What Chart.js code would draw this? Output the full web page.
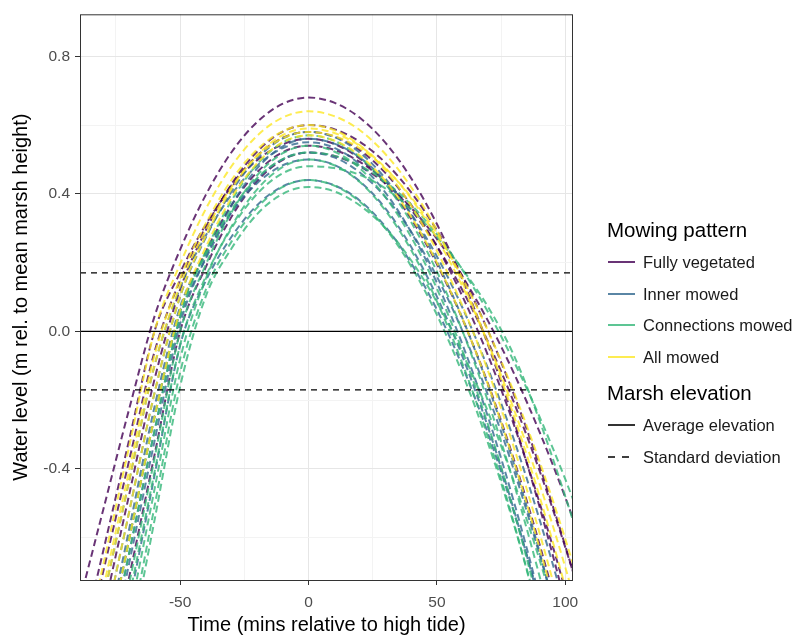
<!DOCTYPE html>
<html>
<head>
<meta charset="utf-8">
<script src="https://cdn.jsdelivr.net/npm/chart.js@4"></script>
<style>
  body { margin: 0; background: #fff; font-family: "Liberation Sans", Arial, sans-serif; }
  #wrap { position: relative; width: 795px; height: 636px; overflow: hidden; }
  #legend { position: absolute; left: 0; top: 0; width: 795px; height: 636px; pointer-events: none; }
  .ttl { position: absolute; left: 607px; font-size: 20.5px; line-height: 24px; color: #000; white-space: nowrap; }
  .row { position: absolute; left: 608px; height: 24px; white-space: nowrap; }
  .row svg { position: absolute; left: 0; top: 0; }
  .row span { position: absolute; left: 35px; top: 0; font-size: 16.5px; line-height: 24px; color: #1a1a1a; }
</style>
</head>
<body>
<div id="wrap">
  <canvas id="tideChart" width="795" height="636"></canvas>
  <div id="legend"></div>
</div>
<script>
// time axis (mins relative to high tide) shared by every tide curve
const times = [-90, -80, -70, -60, -50, -40, -30, -20, -10, 0, 10, 20, 30, 40, 50, 60, 70, 80, 90, 100, 110];

const mowingPatterns = ["Fully vegetated", "Inner mowed", "Connections mowed", "All mowed"];
const patternColors = ["rgba(68,1,84,0.8)", "rgba(49,104,142,0.8)", "rgba(53,183,121,0.8)", "rgba(253,231,37,0.8)"];

// water level (m rel. to mean marsh height), one array per tide
const fullyVegetated = [
  [-0.81, -0.52, -0.23, 0.043, 0.238, 0.397, 0.521, 0.609, 0.662, 0.68, 0.665, 0.621, 0.548, 0.445, 0.312, 0.150, -0.041, -0.261, -0.511, -0.791, -1.10],
  [-1.02, -0.70, -0.38, -0.06, 0.149, 0.304, 0.425, 0.511, 0.563, 0.58, 0.567, 0.527, 0.460, 0.367, 0.247, 0.101, -0.072, -0.272, -0.499, -0.752, -1.03],
  [-1.16, -0.82, -0.48, -0.14, 0.122, 0.294, 0.428, 0.523, 0.581, 0.60, 0.588, 0.551, 0.490, 0.404, 0.294, 0.159, 0.0, -0.184, -0.392, -0.624, -0.881],
  [-1.33, -0.97, -0.61, -0.25, 0.059, 0.232, 0.367, 0.463, 0.521, 0.54, 0.528, 0.493, 0.435, 0.353, 0.248, 0.119, -0.032, -0.207, -0.406, -0.628, -0.873],
  [-1.44, -1.08, -0.72, -0.36, 0.0, 0.187, 0.333, 0.437, 0.499, 0.52, 0.510, 0.480, 0.430, 0.359, 0.269, 0.159, 0.029, -0.122, -0.293, -0.483, -0.694],
  [-0.96, -0.64, -0.32, 0.0, 0.171, 0.311, 0.420, 0.498, 0.544, 0.56, 0.545, 0.502, 0.429, 0.327, 0.196, 0.035, -0.154, -0.373, -0.620, -0.897, -1.20]
];
const innerMowed = [
  [-1.23, -0.88, -0.53, -0.18, 0.101, 0.273, 0.407, 0.503, 0.561, 0.58, 0.565, 0.520, 0.444, 0.339, 0.203, 0.037, -0.160, -0.386, -0.642, -0.929, -1.25],
  [-1.12, -0.78, -0.44, -0.10, 0.127, 0.279, 0.398, 0.482, 0.533, 0.55, 0.534, 0.485, 0.403, 0.288, 0.141, -0.039, -0.251, -0.496, -0.774, -1.085, -1.44],
  [-1.37, -1.01, -0.65, -0.29, 0.039, 0.212, 0.347, 0.443, 0.501, 0.52, 0.506, 0.462, 0.390, 0.289, 0.159, 0.0, -0.188, -0.404, -0.650, -0.924, -1.26],
  [-1.30, -0.94, -0.58, -0.22, 0.071, 0.226, 0.346, 0.431, 0.483, 0.50, 0.484, 0.436, 0.357, 0.245, 0.101, -0.074, -0.281, -0.520, -0.791, -1.09, -1.43],
  [-1.56, -1.18, -0.80, -0.42, -0.04, 0.147, 0.275, 0.367, 0.422, 0.44, 0.425, 0.380, 0.304, 0.198, 0.063, -0.103, -0.299, -0.526, -0.782, -1.07, -1.45],
  [-1.40, -1.04, -0.68, -0.32, 0.022, 0.216, 0.366, 0.474, 0.538, 0.56, 0.546, 0.505, 0.437, 0.341, 0.218, 0.068, -0.110, -0.315, -0.548, -0.807, -1.10]
];
const connectionsMowed = [
  [-1.37, -1.01, -0.65, -0.29, 0.043, 0.233, 0.380, 0.486, 0.549, 0.57, 0.554, 0.507, 0.428, 0.317, 0.174, 0.0, -0.206, -0.443, -0.713, -1.01, -1.38],
  [-1.48, -1.11, -0.74, -0.37, 0.0, 0.194, 0.346, 0.454, 0.518, 0.54, 0.523, 0.474, 0.390, 0.274, 0.124, -0.058, -0.274, -0.524, -0.806, -1.12, -1.47],
  [-1.60, -1.22, -0.84, -0.46, -0.08, 0.153, 0.305, 0.413, 0.478, 0.50, 0.483, 0.434, 0.351, 0.236, 0.087, -0.095, -0.310, -0.558, -0.839, -1.15, -1.50],
  [-1.68, -1.29, -0.90, -0.51, -0.12, 0.121, 0.261, 0.360, 0.420, 0.44, 0.424, 0.377, 0.299, 0.189, 0.048, -0.124, -0.327, -0.562, -0.829, -1.13, -1.50],
  [-1.72, -1.33, -0.94, -0.55, -0.16, 0.102, 0.241, 0.341, 0.400, 0.42, 0.407, 0.366, 0.300, 0.206, 0.085, -0.062, -0.236, -0.437, -0.665, -0.919, -1.20],
  [-1.33, -0.97, -0.61, -0.25, 0.057, 0.224, 0.354, 0.446, 0.501, 0.52, 0.511, 0.482, 0.435, 0.368, 0.282, 0.178, 0.055, -0.088, -0.249, -0.430, -0.629],
  [-1.52, -1.15, -0.78, -0.41, -0.04, 0.160, 0.300, 0.400, 0.460, 0.48, 0.475, 0.455, 0.415, 0.355, 0.275, 0.180, 0.070, -0.070, -0.260, -0.480, -0.720]
];
const allMowed = [
  [-1.02, -0.68, -0.34, 0.0, 0.196, 0.356, 0.480, 0.569, 0.622, 0.64, 0.626, 0.585, 0.515, 0.419, 0.294, 0.141, -0.038, -0.246, -0.481, -0.744, -1.04],
  [-1.09, -0.75, -0.41, -0.07, 0.154, 0.314, 0.440, 0.529, 0.582, 0.60, 0.585, 0.541, 0.468, 0.365, 0.234, 0.073, -0.117, -0.338, -0.587, -0.865, -1.18],
  [-1.23, -0.88, -0.53, -0.18, 0.103, 0.278, 0.414, 0.512, 0.571, 0.59, 0.577, 0.539, 0.475, 0.386, 0.271, 0.130, -0.035, -0.227, -0.444, -0.686, -0.954],
  [-1.33, -0.97, -0.61, -0.25, 0.063, 0.245, 0.388, 0.489, 0.550, 0.57, 0.555, 0.511, 0.437, 0.333, 0.200, 0.036, -0.157, -0.379, -0.631, -0.913, -1.25],
  [-1.12, -0.78, -0.44, -0.10, 0.134, 0.294, 0.419, 0.509, 0.562, 0.58, 0.568, 0.532, 0.473, 0.390, 0.284, 0.154, 0.0, -0.177, -0.379, -0.604, -0.852]
];
const patternSeries = [fullyVegetated, innerMowed, connectionsMowed, allMowed];

// marsh elevation reference lines
const elevationLabels = ["Average elevation", "Standard deviation"];
const elevationMean = 0;
const elevationSd = 0.17;

// axis ranges and breaks
const xRange = [-89, 103];
const yRange = [-0.723, 0.922];
const xBreaks = [-50, 0, 50, 100];
const xMinor = [-75, -25, 25, 75];
const yBreaks = [-0.4, 0, 0.4, 0.8];
const yMinor = [-0.6, -0.2, 0.2, 0.6];

const isMajor = (list, v) => list.some(b => Math.abs(b - v) < 1e-9);

// build datasets: reference lines first so they end up on top
const datasets = [];
const hline = (y, dash) => ({
  data: [{ x: xRange[0], y: y }, { x: xRange[1], y: y }],
  borderColor: "#000",
  borderWidth: 1.4,
  borderDash: dash,
  pointRadius: 0,
  clip: 0
});
datasets.push(hline(elevationMean, []));
datasets.push(hline(elevationMean + elevationSd, [6, 5]));
datasets.push(hline(elevationMean - elevationSd, [6, 5]));

const tideSets = [];
patternSeries.forEach((group, g) => {
  group.forEach(levels => {
    tideSets.push({
      data: levels.map((v, i) => ({ x: times[i], y: v })),
      borderColor: patternColors[g],
      borderWidth: 2,
      borderDash: [7, 4],
      pointRadius: 0,
      cubicInterpolationMode: "monotone",
      clip: 0
    });
  });
});
// later groups get drawn over earlier ones
tideSets.reverse().forEach(d => datasets.push(d));

// panel border on top of everything
const panelBorder = {
  id: "panelBorder",
  afterDraw(chart) {
    const { ctx, chartArea: a } = chart;
    ctx.save();
    ctx.strokeStyle = "#333";
    ctx.lineWidth = 1;
    ctx.strokeRect(a.left + 0.5, a.top + 0.5, a.right - a.left - 1, a.bottom - a.top);
    ctx.restore();
  }
};

const tickFont = { family: "'Liberation Sans', Arial, sans-serif", size: 15.5 };
const titleFont = { family: "'Liberation Sans', Arial, sans-serif", size: 20, lineHeight: 1.1 };

new Chart(document.getElementById("tideChart"), {
  type: "line",
  data: { datasets: datasets },
  plugins: [panelBorder],
  options: {
    responsive: false,
    animation: false,
    layout: { padding: { left: 0, right: 222, top: 14, bottom: 0 } },
    plugins: { legend: { display: false }, tooltip: { enabled: false } },
    scales: {
      x: {
        type: "linear",
        min: xRange[0],
        max: xRange[1],
        afterFit(scale) { scale.height = 56; },
        afterBuildTicks(scale) {
          scale.ticks = xBreaks.concat(xMinor).sort((a, b) => a - b).map(v => ({ value: v }));
        },
        ticks: {
          color: "#4d4d4d",
          font: tickFont,
          padding: 8,
          maxRotation: 0,
          callback: v => isMajor(xBreaks, v) ? String(v) : ""
        },
        grid: {
          color: c => isMajor(xBreaks, c.tick.value) ? "#e6e6e6" : "#f3f3f3",
          tickColor: c => isMajor(xBreaks, c.tick.value) ? "#333" : "rgba(0,0,0,0)",
          tickLength: 5
        },
        border: { display: false },
        title: {
          display: true,
          text: "Time (mins relative to high tide)",
          color: "#000",
          font: titleFont,
          padding: { top: 0, bottom: 0 }
        }
      },
      y: {
        type: "linear",
        min: yRange[0],
        max: yRange[1],
        afterFit(scale) { scale.width = 80; },
        afterBuildTicks(scale) {
          scale.ticks = yBreaks.concat(yMinor).sort((a, b) => a - b).map(v => ({ value: v }));
        },
        ticks: {
          color: "#4d4d4d",
          font: tickFont,
          padding: 5,
          callback: v => isMajor(yBreaks, v) ? v.toFixed(1) : ""
        },
        grid: {
          color: c => isMajor(yBreaks, c.tick.value) ? "#e6e6e6" : "#f3f3f3",
          tickColor: c => isMajor(yBreaks, c.tick.value) ? "#333" : "rgba(0,0,0,0)",
          tickLength: 5
        },
        border: { display: false },
        title: {
          display: true,
          text: "Water level (m rel. to mean marsh height)",
          color: "#000",
          font: titleFont,
          padding: { top: 10, bottom: 0 }
        }
      }
    }
  }
});

// legend: two titled sections like the plot's guide
const legend = document.getElementById("legend");
function addTitle(text, cy) {
  const d = document.createElement("div");
  d.className = "ttl";
  d.style.top = (cy - 12) + "px";
  d.textContent = text;
  legend.appendChild(d);
}
function addRow(text, cy, color, dash, width) {
  const r = document.createElement("div");
  r.className = "row";
  r.style.top = (cy - 12) + "px";
  r.innerHTML = '<svg width="30" height="24"><line x1="0" y1="12" x2="27" y2="12" stroke="' + color +
    '" stroke-width="' + width + '"' + (dash ? ' stroke-dasharray="' + dash + '"' : '') + '/></svg>';
  const s = document.createElement("span");
  s.textContent = text;
  r.appendChild(s);
  legend.appendChild(r);
}
addTitle("Mowing pattern", 230);
const rowCentres = [262, 294, 325, 357];
mowingPatterns.forEach((name, i) => addRow(name, rowCentres[i], patternColors[i], null, 2));
addTitle("Marsh elevation", 393);
addRow(elevationLabels[0], 425, "#000", null, 1.6);
addRow(elevationLabels[1], 457, "#000", "7 7", 1.6);
</script>
</body>
</html>
